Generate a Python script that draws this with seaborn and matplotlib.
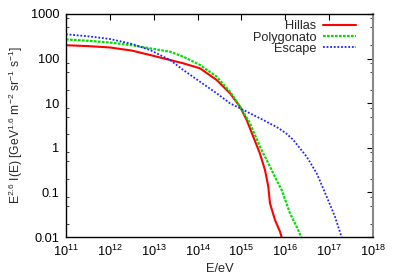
import numpy as np
import pandas as pd
import matplotlib
matplotlib.use("Agg")
import matplotlib.pyplot as plt
import matplotlib.ticker as mticker
import seaborn as sns

# ---- data (log10 values) ----
hillas_logE = [11.0, 11.5, 12.0, 12.5, 12.915, 13.371, 13.675, 14.055, 14.436, 14.739, 14.967, 15.12, 15.27, 15.42, 15.537, 15.613, 15.651, 15.765, 15.88, 15.93]
hillas_logI = [2.30, 2.28, 2.25, 2.18, 2.081, 1.969, 1.894, 1.782, 1.52, 1.222, 0.922, 0.623, 0.249, -0.124, -0.498, -0.872, -1.244, -1.619, -1.88, -2.05]

poly_logE = [11.0, 11.5, 12.0, 12.5, 12.915, 13.371, 13.675, 14.055, 14.436, 14.739, 14.967, 15.195, 15.423, 15.613, 15.80, 15.918, 16.107, 16.26, 16.385]
poly_logI = [2.43, 2.40, 2.36, 2.30, 2.23, 2.155, 2.043, 1.857, 1.594, 1.258, 0.93, 0.549, 0.025, -0.348, -0.72, -0.946, -1.469, -1.77, -2.05]

esc_logE = [11.0, 11.5, 12.0, 12.5, 12.915, 13.371, 13.675, 14.055, 14.436, 14.739, 14.967, 15.423, 15.804, 16.0, 16.18, 16.488, 16.716, 16.944, 17.133, 17.30]
esc_logI = [2.545, 2.50, 2.44, 2.33, 2.193, 1.969, 1.744, 1.482, 1.222, 0.998, 0.886, 0.661, 0.465, 0.34, 0.18, -0.20, -0.572, -1.096, -1.545, -2.05]

series_names = ["Hillas", "Polygonato", "Escape"]
ytick_vals = [0.01, 0.1, 1, 10, 100, 1000]
ytick_labels = ["0.01", "0.1", "1", "10", "100", "1000"]

frames = []
for name, lx, ly in [("Hillas", hillas_logE, hillas_logI),
                     ("Polygonato", poly_logE, poly_logI),
                     ("Escape", esc_logE, esc_logI)]:
    frames.append(pd.DataFrame({"E": 10.0 ** np.array(lx), "I": 10.0 ** np.array(ly), "model": name}))
df = pd.concat(frames, ignore_index=True)

sns.set_style("white")
plt.rcParams["font.family"] = ["Liberation Sans", "DejaVu Sans"]
plt.rcParams["mathtext.fontset"] = "custom"
plt.rcParams["mathtext.rm"] = "Liberation Sans"
plt.rcParams["mathtext.it"] = "Liberation Sans:italic"

FS = 8.7

fig = plt.figure(figsize=(3.95, 2.76), dpi=100)
ax = fig.add_axes([66/395, 1-237/276, (373-66)/395, (237-14)/276])

styles = {"Hillas": dict(color="#ff0000", ls="-", lw=1.5),
          "Polygonato": dict(color="#00e000", ls=(0, (1.2, 0.6)), lw=1.6),
          "Escape": dict(color="#2020ff", ls=(0, (1.0, 1.0)), lw=1.3)}
for name in series_names:
    sub = df[df["model"] == name]
    sns.lineplot(data=sub, x="E", y="I", ax=ax, sort=False, label=name,
                 estimator=None, **styles[name])

ax.set_xscale("log")
ax.set_yscale("log")
ax.set_xlim(1e11, 1e18)
ax.set_ylim(0.01, 1000)

ax.xaxis.set_major_locator(mticker.LogLocator(base=10, numticks=20))
ax.xaxis.set_major_formatter(mticker.LogFormatterMathtext())
ax.xaxis.set_minor_locator(mticker.NullLocator())
ax.set_yticks(ytick_vals)
ax.set_yticklabels(ytick_labels)
ax.yaxis.set_minor_locator(mticker.LogLocator(base=10, subs=[2, 5, 8], numticks=20))
ax.yaxis.set_minor_formatter(mticker.NullFormatter())

ax.tick_params(which="major", direction="in", length=4, width=0.8, top=True, right=True,
               labelsize=FS + 0.5, colors="black", pad=5)
ax.tick_params(which="minor", direction="in", length=2.5, width=0.6, left=True, right=True)
for s in ax.spines.values():
    s.set_color("black")
    s.set_linewidth(1.0)
ax.spines["right"].set_color("#888888")
ax.spines["right"].set_linewidth(1.5)

ax.set_xlabel("E/eV", fontsize=FS + 0.5, labelpad=3)
ax.set_ylabel(r"E$^{2.6}$ I(E) [GeV$^{1.6}$ m$^{-2}$ sr$^{-1}$ s$^{-1}$]", fontsize=FS, labelpad=4)

leg = ax.legend(loc="upper right", frameon=False, markerfirst=False, fontsize=FS + 0.5,
                handlelength=2.6, handletextpad=0.5, labelspacing=-0.05,
                borderaxespad=0.0, bbox_to_anchor=(0.962, 0.995))
for t in leg.get_texts():
    t.set_ha("right")

fig.savefig("out.png", dpi=100)
